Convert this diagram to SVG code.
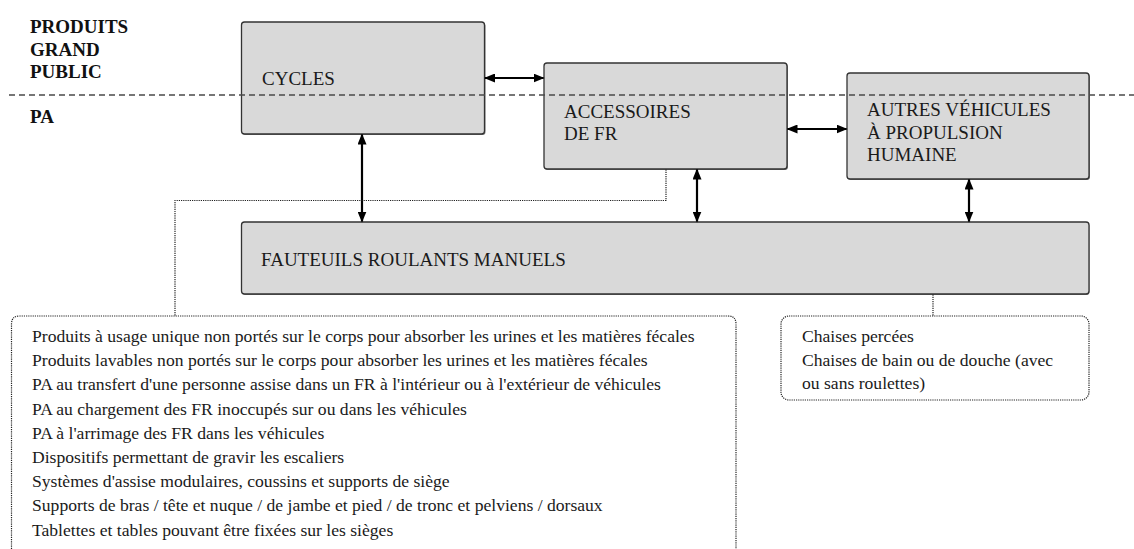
<svg xmlns="http://www.w3.org/2000/svg" width="1134" height="549" viewBox="0 0 1134 549">
  <style>
    .box { fill: #d9d9d9; stroke: #333; stroke-width: 1.3; }
    .shadow { fill: #7a7a7a; }
    .lbl { font-family: "Liberation Serif", "Times New Roman", serif; font-size: 19px; fill: #1a1a1a; }
    .hdr { font-family: "Liberation Serif", "Times New Roman", serif; font-size: 19px; font-weight: bold; fill: #111; }
    .lst { font-family: "Liberation Serif", "Times New Roman", serif; font-size: 17.6px; fill: #1a1a1a; }
    .dot { fill: none; stroke: #222; stroke-width: 1.2; stroke-dasharray: 1.2 1; }
    .arr { fill: none; stroke: #000; stroke-width: 2.2; marker-start: url(#ah); marker-end: url(#ah); }
    .sep { fill: none; stroke: #4a4a4a; stroke-width: 1.4; stroke-dasharray: 6 4; }
  </style>
  <defs>
    <marker id="ah" viewBox="0 0 11 9" refX="10" refY="4.5" markerWidth="11" markerHeight="9" markerUnits="userSpaceOnUse" orient="auto-start-reverse">
      <path d="M0,0 L11,4.5 L0,9 z" fill="#000"/>
    </marker>
  </defs>

  <g id="headers">
    <text class="hdr" x="30" y="33">PRODUITS</text>
    <text class="hdr" x="30" y="56">GRAND</text>
    <text class="hdr" x="30" y="78">PUBLIC</text>
    <text class="hdr" x="30" y="123">PA</text>
  </g>

  <g id="node-cycles">
    <rect class="shadow" x="242.5" y="23" width="243" height="112" rx="3"/>
    <rect class="box" x="241.5" y="22" width="243" height="112" rx="3"/>
    <text class="lbl" x="262" y="85">CYCLES</text>
  </g>

  <g id="node-accessoires">
    <rect class="shadow" x="545" y="64" width="243" height="106" rx="3"/>
    <rect class="box" x="544" y="63" width="243" height="106" rx="3"/>
    <text class="lbl" x="564" y="118">ACCESSOIRES</text>
    <text class="lbl" x="564" y="140">DE FR</text>
  </g>

  <g id="node-autres">
    <rect class="shadow" x="848" y="74" width="242" height="106" rx="3"/>
    <rect class="box" x="847" y="73" width="242" height="106" rx="3"/>
    <text class="lbl" x="867" y="116">AUTRES VÉHICULES</text>
    <text class="lbl" x="867" y="138.5">À PROPULSION</text>
    <text class="lbl" x="867" y="161">HUMAINE</text>
  </g>

  <g id="node-fauteuils">
    <rect class="shadow" x="242.5" y="223" width="847" height="72" rx="3"/>
    <rect class="box" x="241.5" y="222" width="847.5" height="72" rx="3"/>
    <text class="lbl" x="261" y="266">FAUTEUILS ROULANTS MANUELS</text>
  </g>

  <g id="node-liste">
    <path class="dot" d="M11.5,560 L11.5,324 Q11.5,316 19.5,316 L728,316 Q736,316 736,324 L736,560"/>
    <text class="lst" x="32" y="342">Produits à usage unique non portés sur le corps pour absorber les urines et les matières fécales</text>
    <text class="lst" x="32" y="366.2">Produits lavables non portés sur le corps pour absorber les urines et les matières fécales</text>
    <text class="lst" x="32" y="390.4">PA au transfert d'une personne assise dans un FR à l'intérieur ou à l'extérieur de véhicules</text>
    <text class="lst" x="32" y="414.6">PA au chargement des FR inoccupés sur ou dans les véhicules</text>
    <text class="lst" x="32" y="438.8">PA à l'arrimage des FR dans les véhicules</text>
    <text class="lst" x="32" y="463">Dispositifs permettant de gravir les escaliers</text>
    <text class="lst" x="32" y="487.2">Systèmes d'assise modulaires, coussins et supports de siège</text>
    <text class="lst" x="32" y="511.4">Supports de bras / tête et nuque / de jambe et pied / de tronc et pelviens / dorsaux</text>
    <text class="lst" x="32" y="535.6">Tablettes et tables pouvant être fixées sur les sièges</text>
  </g>

  <g id="node-chaises">
    <rect class="dot" x="781" y="316" width="308" height="84" rx="8"/>
    <text class="lst" x="802" y="342">Chaises percées</text>
    <text class="lst" x="802" y="366">Chaises de bain ou de douche (avec</text>
    <text class="lst" x="802" y="389">ou sans roulettes)</text>
  </g>

  <g id="separator">
    <line class="sep" x1="9" y1="95" x2="1134" y2="95"/>
  </g>

  <g id="connectors">
    <line class="arr" x1="485" y1="78" x2="543.5" y2="78"/>
    <line class="arr" x1="787.5" y1="129" x2="846.5" y2="129"/>
    <line class="arr" x1="362" y1="134.5" x2="362" y2="221.5"/>
    <line class="arr" x1="697" y1="169.5" x2="697" y2="221.5"/>
    <line class="arr" x1="969" y1="179.5" x2="969" y2="221.5"/>
    <path class="dot" d="M666,169.5 L666,200.5 L175,200.5 L175,316"/>
    <path class="dot" d="M933,294.5 L933,316"/>
  </g>
</svg>
